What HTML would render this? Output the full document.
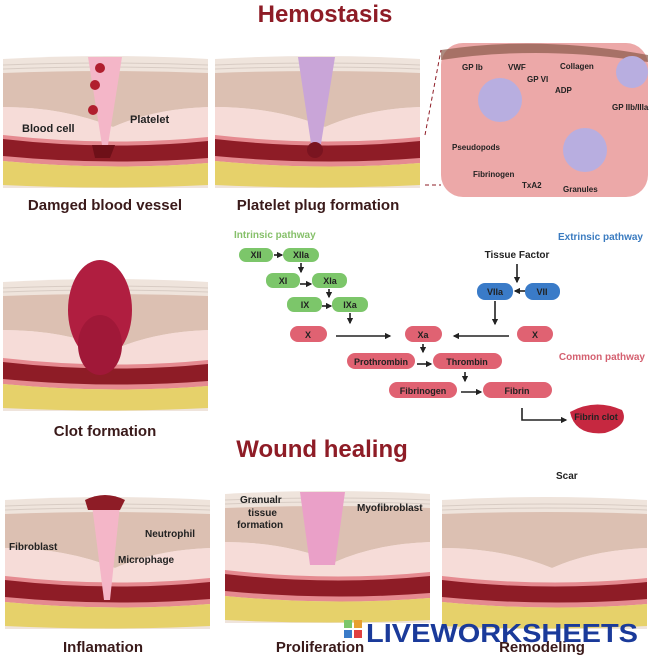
<!DOCTYPE html>
<html><head><meta charset="utf-8"><style>
body{margin:0;background:#fff;width:650px;height:658px;overflow:hidden}
svg{display:block;font-family:"Liberation Sans",sans-serif;font-weight:bold}
</style></head><body>
<svg width="650" height="658" viewBox="0 0 650 658">
<defs>
<marker id="ah" viewBox="0 0 10 10" refX="8" refY="5" markerWidth="4" markerHeight="4" orient="auto"><path d="M0,0 L10,5 L0,10Z" fill="#222"/></marker>
<g id="skin">
 <path d="M0,2 Q105,-4 205,2 L205,131 L0,131Z" fill="#efe4dc"/>
 <path d="M0,16 Q105,12 205,16 L205,50 Q150,52 110,70 Q60,50 0,50Z" fill="#dcc0b2"/>
 <path d="M0,50 Q60,50 110,70 Q150,52 205,50 L205,82 Q105,88 0,80Z" fill="#f6dcd8"/>
 <path d="M0,78 Q105,90 205,80 L205,106 Q105,114 0,104Z" fill="#e58a90"/>
 <path d="M0,82 Q105,94 205,84 L205,101 Q105,109 0,99Z" fill="#8e1c26"/>
 <path d="M0,104 Q105,114 205,106 L205,128 Q105,133 0,128Z" fill="#e6d16a"/>
 <path d="M0,8 Q105,4 205,8 M0,12 Q105,8 205,12" stroke="#d8ccc4" fill="none"/>
</g>
</defs>
<text x="325" y="22" text-anchor="middle" font-size="24" fill="#8e1c26">Hemostasis</text>

<use href="#skin" x="3" y="57"/>
<path d="M88,57 L122,57 L108,145 L102,145Z" fill="#f4b6c8"/>
<circle cx="100" cy="68" r="5" fill="#b01e2e"/><circle cx="93" cy="110" r="5" fill="#b01e2e"/><circle cx="95" cy="85" r="5" fill="#b01e2e"/>
<path d="M92,145 L115,145 L110,158 L95,158Z" fill="#6e1018"/>
<text x="22" y="132" font-size="11" fill="#222">Blood cell</text>
<text x="130" y="123" font-size="11" fill="#222">Platelet</text>
<text x="105" y="210" text-anchor="middle" font-size="15" fill="#3a1a1a">Damged blood vessel</text>

<use href="#skin" x="215" y="57"/>
<path d="M298,57 L335,57 L320,150 L312,150Z" fill="#c9a5d8"/>
<circle cx="315" cy="150" r="8" fill="#7a1420"/>
<text x="318" y="210" text-anchor="middle" font-size="15" fill="#3a1a1a">Platelet plug formation</text>

<rect x="441" y="43" width="207" height="154" rx="22" fill="#eca8a8"/>
<path d="M441,50 Q540,35 648,55 L648,62 Q540,45 441,60Z" fill="#8a5a4a" opacity=".7"/>
<path d="M425,135 L441,50 M425,185 L441,185" stroke="#8e1c26" stroke-dasharray="4,3"/>
<circle cx="500" cy="100" r="22" fill="#b8aee0"/><circle cx="585" cy="150" r="22" fill="#b8aee0"/><circle cx="632" cy="72" r="16" fill="#b8aee0"/>
<g font-size="8" fill="#222">
<text x="462" y="70">GP Ib</text><text x="508" y="70">VWF</text><text x="560" y="69">Collagen</text>
<text x="527" y="82">GP VI</text><text x="555" y="93">ADP</text><text x="612" y="110">GP IIb/IIIa</text>
<text x="452" y="150">Pseudopods</text><text x="473" y="177">Fibrinogen</text><text x="522" y="188">TxA2</text><text x="563" y="192">Granules</text>
</g>

<use href="#skin" x="3" y="280"/>
<ellipse cx="100" cy="310" rx="32" ry="50" fill="#b01e40"/>
<ellipse cx="100" cy="345" rx="22" ry="30" fill="#a01838"/>
<text x="105" y="436" text-anchor="middle" font-size="15" fill="#3a1a1a">Clot formation</text>

<g font-size="10">
<text x="234" y="238" fill="#86c06a">Intrinsic pathway</text>
<text x="643" y="240" text-anchor="end" fill="#3a7bc0">Extrinsic pathway</text>
<text x="645" y="360" text-anchor="end" fill="#d46070">Common pathway</text>
<text x="517" y="258" text-anchor="middle" fill="#222">Tissue Factor</text>
</g>
<g font-size="9" fill="#222" text-anchor="middle">
<rect x="239" y="248" width="34" height="14" rx="7" fill="#7cc66a"/><text x="256" y="258">XII</text>
<rect x="283" y="248" width="36" height="14" rx="7" fill="#7cc66a"/><text x="301" y="258">XIIa</text>
<rect x="266" y="273" width="34" height="15" rx="7" fill="#7cc66a"/><text x="283" y="284">XI</text>
<rect x="312" y="273" width="35" height="15" rx="7" fill="#7cc66a"/><text x="330" y="284">XIa</text>
<rect x="287" y="297" width="35" height="15" rx="7" fill="#7cc66a"/><text x="305" y="308">IX</text>
<rect x="332" y="297" width="36" height="15" rx="7" fill="#7cc66a"/><text x="350" y="308">IXa</text>
<rect x="477" y="283" width="36" height="17" rx="8" fill="#3a7bc8"/><text x="495" y="295">VIIa</text>
<rect x="525" y="283" width="35" height="17" rx="8" fill="#3a7bc8"/><text x="542" y="295">VII</text>
<rect x="290" y="326" width="37" height="16" rx="8" fill="#e06272"/><text x="308" y="338">X</text>
<rect x="405" y="326" width="37" height="16" rx="8" fill="#e06272"/><text x="423" y="338">Xa</text>
<rect x="517" y="326" width="36" height="16" rx="8" fill="#e06272"/><text x="535" y="338">X</text>
<rect x="347" y="353" width="68" height="16" rx="8" fill="#e06272"/><text x="381" y="365">Prothrombin</text>
<rect x="433" y="353" width="69" height="16" rx="8" fill="#e06272"/><text x="467" y="365">Thrombin</text>
<rect x="389" y="382" width="68" height="16" rx="8" fill="#e06272"/><text x="423" y="394">Fibrinogen</text>
<rect x="483" y="382" width="69" height="16" rx="8" fill="#e06272"/><text x="517" y="394">Fibrin</text>
<path d="M570,412 Q595,398 622,410 Q630,425 605,433 Q575,436 570,412Z" fill="#c62840"/><text x="596" y="420">Fibrin clot</text>
</g>
<g stroke="#222" stroke-width="1.6" fill="none" marker-end="url(#ah)">
<path d="M274,255 H282"/><path d="M301,263 V272"/><path d="M300,284 H311"/><path d="M329,289 V297"/>
<path d="M322,306 H331"/><path d="M350,313 V323"/><path d="M336,336 H390"/><path d="M509,336 H454"/>
<path d="M495,301 V324"/><path d="M525,291 H515"/><path d="M517,264 V282"/><path d="M423,344 V352"/>
<path d="M417,364 H431"/><path d="M465,372 V381"/><path d="M461,392 H481"/><path d="M522,408 V420 H566"/>
</g>

<text x="322" y="457" text-anchor="middle" font-size="24" fill="#8e1c26">Wound healing</text>
<use href="#skin" x="5" y="498"/>
<path d="M92,505 L120,505 L110,600 L104,600Z" fill="#f4b6c8"/>
<path d="M85,500 Q105,490 125,500 L120,510 L88,510Z" fill="#8e1c26"/>
<g font-size="10" fill="#222"><text x="9" y="550">Fibroblast</text><text x="145" y="537">Neutrophil</text><text x="118" y="563">Microphage</text></g>
<text x="103" y="652" text-anchor="middle" font-size="15" fill="#3a1a1a">Inflamation</text>
<use href="#skin" x="225" y="492"/>
<path d="M300,492 L345,492 L335,565 L310,565Z" fill="#eaa0c8"/>
<g font-size="10" fill="#222"><text x="240" y="503">Granualr</text><text x="248" y="516">tissue</text><text x="237" y="528">formation</text><text x="357" y="511">Myofibroblast</text></g>
<text x="320" y="652" text-anchor="middle" font-size="15" fill="#3a1a1a">Proliferation</text>
<use href="#skin" x="442" y="498"/>
<text x="556" y="479" font-size="10" fill="#222">Scar</text>
<text x="542" y="652" text-anchor="middle" font-size="15" fill="#3a1a1a">Remodeling</text>
<rect x="344" y="620" width="8" height="8" fill="#7cc66a"/><rect x="354" y="620" width="8" height="8" fill="#e8a030"/><rect x="344" y="630" width="8" height="8" fill="#3a7bc8"/><rect x="354" y="630" width="8" height="8" fill="#e04040"/>
<text x="366" y="642" font-size="26" fill="#1a3a9a" textLength="272" lengthAdjust="spacingAndGlyphs">LIVEWORKSHEETS</text>
</svg>
</body></html>
